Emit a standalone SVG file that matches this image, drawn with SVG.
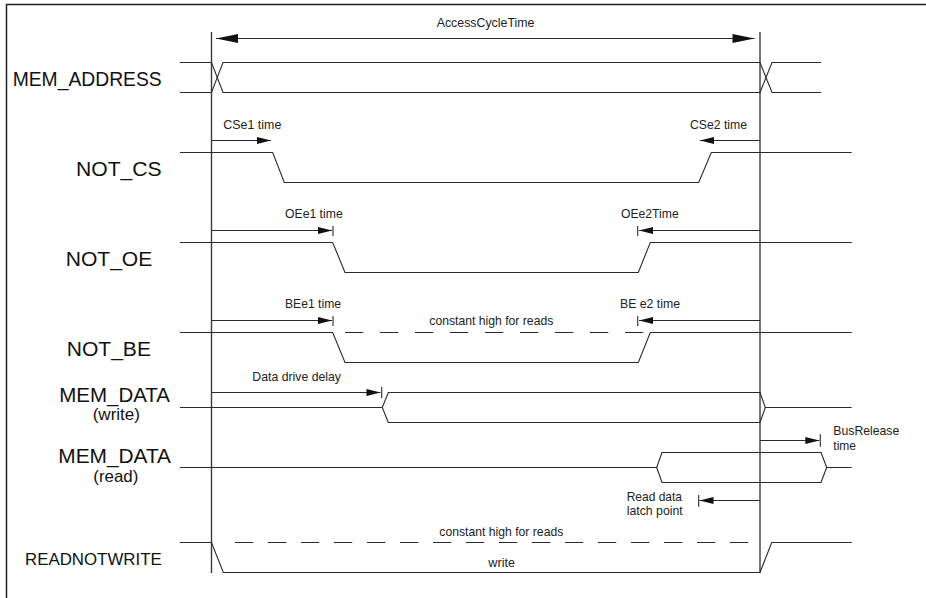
<svg xmlns="http://www.w3.org/2000/svg" width="926" height="598" viewBox="0 0 926 598">
<style>
.sig{fill:none;stroke:#2a2a2a;stroke-width:1.1}
.dash1{fill:none;stroke:#2a2a2a;stroke-width:1.1;stroke-dasharray:18.3 16.7}
.dash2{fill:none;stroke:#2a2a2a;stroke-width:1.1;stroke-dasharray:18.3 14.7}
.vl{fill:none;stroke:#3a3a3a;stroke-width:1.4}
.arr{fill:none;stroke:#2a2a2a;stroke-width:1.1;marker-end:url(#ah)}
.bar{fill:none;stroke:#2a2a2a;stroke-width:1.1}
.lbl{font-family:"Liberation Sans",Arial,sans-serif;fill:#111}
.sm{font-family:"Liberation Sans",Arial,sans-serif;font-size:13.5px;fill:#222}
</style>
<defs>
<marker id="ah" viewBox="-15 -5 16 10" refX="0" refY="0" markerWidth="16" markerHeight="10" markerUnits="userSpaceOnUse" orient="auto">
<path d="M0,0 L-14,-3.6 L-14,3.6 Z" fill="#111"/>
</marker>
<marker id="bh" viewBox="-24 -6 25 12" refX="0" refY="0" markerWidth="25" markerHeight="12" markerUnits="userSpaceOnUse" orient="auto-start-reverse">
<path d="M0,0 L-22,-4.6 L-22,4.6 Z" fill="#111"/>
</marker>
</defs>
<g id="frame">
<path d="M6.5,598 V4.5 H926" fill="none" stroke="#222" stroke-width="1.5"/>
</g>
<g id="cycle">
<line class="vl" x1="211.5" y1="32" x2="211.5" y2="573"/>
<line class="vl" x1="760" y1="32" x2="760" y2="573"/>
<line x1="216" y1="38.5" x2="754.5" y2="38.5" stroke="#2a2a2a" stroke-width="1.1" marker-start="url(#bh)" marker-end="url(#bh)"/>
<text class="sm" x="436.7" y="26.7" textLength="97.7" lengthAdjust="spacingAndGlyphs">AccessCycleTime</text>
</g>
<g id="mem_address">
<text class="lbl" x="12.7" y="86" font-size="19.3" textLength="149" lengthAdjust="spacingAndGlyphs">MEM_ADDRESS</text>
<path class="sig" d="M180,62.5 H211.5 L223,92.5 H760 L772,62.5 H821"/>
<path class="sig" d="M180,92.5 H211.5 L223,62.5 H760 L772,92.5 H821"/>
</g>
<g id="not_cs">
<text class="lbl" x="76" y="176" font-size="20.5" textLength="85.7" lengthAdjust="spacingAndGlyphs">NOT_CS</text>
<path class="sig" d="M180,152.5 H272.7 L284.3,182.5 H698.7 L711.3,152.5 H851.7"/>
</g>
<g id="not_oe">
<text class="lbl" x="65.7" y="266" font-size="20.5" textLength="86.6" lengthAdjust="spacingAndGlyphs">NOT_OE</text>
<path class="sig" d="M180,242.5 H332.7 L345,272.5 H638.3 L650.3,242.5 H851.7"/>
</g>
<g id="not_be">
<text class="lbl" x="66.7" y="355.7" font-size="20.5" textLength="84.3" lengthAdjust="spacingAndGlyphs">NOT_BE</text>
<path class="sig" d="M180,332.5 H332.7 L345,362.5 H638.3 L650.3,332.5 H851.7"/>
<line class="dash1" x1="345" y1="332.5" x2="646" y2="332.5"/>
<text class="sm" x="429.3" y="325" textLength="124" lengthAdjust="spacingAndGlyphs">constant high for reads</text>
</g>
<g id="mem_data_write">
<text class="lbl" x="59.3" y="401.7" font-size="19.8" textLength="110.7" lengthAdjust="spacingAndGlyphs">MEM_DATA</text>
<text class="lbl" x="92.7" y="420" font-size="17" textLength="47.3" lengthAdjust="spacingAndGlyphs">(write)</text>
<path class="sig" d="M180,407.5 H382.3 L388.3,392.5 H760 L765.3,407.5 H851.7"/>
<path class="sig" d="M382.3,407.5 L388.3,422.5 H760 L765.3,407.5"/>
</g>
<g id="mem_data_read">
<text class="lbl" x="58.3" y="463.3" font-size="19.8" textLength="112.7" lengthAdjust="spacingAndGlyphs">MEM_DATA</text>
<text class="lbl" x="93.3" y="482.3" font-size="17" textLength="45" lengthAdjust="spacingAndGlyphs">(read)</text>
<path class="sig" d="M180,467.5 H656.7 L662,452.5 H821 L826.7,467.5 H851.7"/>
<path class="sig" d="M656.7,467.5 L662,482.5 H821 L826.7,467.5"/>
</g>
<g id="readnotwrite">
<text class="lbl" x="25" y="565" font-size="17" textLength="136.7" lengthAdjust="spacingAndGlyphs">READNOTWRITE</text>
<path class="sig" d="M180,542.5 H211.5 L223.3,572.5 H760 L771.7,542.5 H851.7"/>
<line class="dash2" x1="235" y1="542.5" x2="748" y2="542.5"/>
<text class="sm" x="439.3" y="535.7" textLength="124" lengthAdjust="spacingAndGlyphs">constant high for reads</text>
<text class="sm" x="488.3" y="566.7" textLength="26.7" lengthAdjust="spacingAndGlyphs">write</text>
</g>
<g id="connectors">
<line class="arr" x1="211.5" y1="140.5" x2="271" y2="140.5"/>
<text class="sm" x="223.3" y="129" textLength="58" lengthAdjust="spacingAndGlyphs">CSe1 time</text>
<line class="arr" x1="760" y1="140.5" x2="700" y2="140.5"/>
<text class="sm" x="690" y="129" textLength="57" lengthAdjust="spacingAndGlyphs">CSe2 time</text>
<line class="arr" x1="211.5" y1="230.5" x2="332" y2="230.5"/>
<line class="bar" x1="333" y1="226" x2="333" y2="236"/>
<text class="sm" x="285" y="218.3" textLength="57.7" lengthAdjust="spacingAndGlyphs">OEe1 time</text>
<line class="arr" x1="760" y1="230.5" x2="639" y2="230.5"/>
<line class="bar" x1="637.7" y1="226" x2="637.7" y2="236"/>
<text class="sm" x="621" y="218.3" textLength="57.7" lengthAdjust="spacingAndGlyphs">OEe2Time</text>
<line class="arr" x1="211.5" y1="320.5" x2="332" y2="320.5"/>
<line class="bar" x1="333" y1="316" x2="333" y2="326"/>
<text class="sm" x="285" y="308.3" textLength="56" lengthAdjust="spacingAndGlyphs">BEe1 time</text>
<line class="arr" x1="760" y1="320.5" x2="639" y2="320.5"/>
<line class="bar" x1="637.7" y1="316" x2="637.7" y2="326"/>
<text class="sm" x="620" y="308.3" textLength="60" lengthAdjust="spacingAndGlyphs">BE e2 time</text>
<line class="arr" x1="211.5" y1="392.5" x2="380.5" y2="392.5"/>
<line class="bar" x1="381.7" y1="386.7" x2="381.7" y2="398.3"/>
<text class="sm" x="252.3" y="381" textLength="88.7" lengthAdjust="spacingAndGlyphs">Data drive delay</text>
<line class="arr" x1="760" y1="440.5" x2="819.3" y2="440.5"/>
<line class="bar" x1="820.3" y1="434.3" x2="820.3" y2="446.7"/>
<text class="sm" x="833.3" y="435" textLength="66" lengthAdjust="spacingAndGlyphs">BusRelease</text>
<text class="sm" x="833.3" y="450" textLength="22.7" lengthAdjust="spacingAndGlyphs">time</text>
<line class="arr" x1="760" y1="500.5" x2="699.5" y2="500.5"/>
<line class="bar" x1="698.7" y1="495" x2="698.7" y2="506.7"/>
<text class="sm" x="626.7" y="500.5" font-size="13" textLength="55.3" lengthAdjust="spacingAndGlyphs">Read data</text>
<text class="sm" x="626.7" y="515" font-size="13" textLength="56" lengthAdjust="spacingAndGlyphs">latch point</text>
</g>
</svg>
